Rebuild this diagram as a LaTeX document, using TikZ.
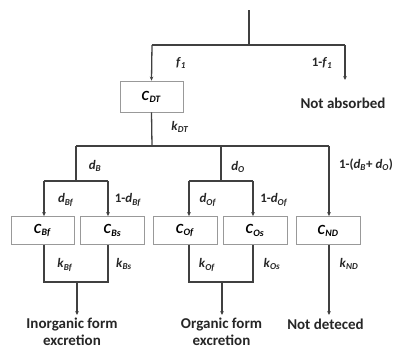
\documentclass[tikz,border=0pt]{standalone}
\usepackage{fontspec}
\setmainfont{Carlito}
\usetikzlibrary{arrows.meta}
\newcommand{\vr}[2]{\textit{#1}\textsubscript{\textit{#2}}}
\begin{document}
\begin{tikzpicture}[x=1pt,y=-1pt,
  conn/.style={draw=black!75,line width=1.3pt},
  arr/.style={conn,-{Stealth[length=4pt,width=3.6pt]}},
  box/.style={draw=black!40,line width=0.8pt,minimum width=63pt,minimum height=28pt,inner sep=0pt,font=\fontsize{14}{16}\selectfont\bfseries},
  lbl/.style={font=\fontsize{13}{15}\selectfont\bfseries,text=black!85,inner sep=0pt},
  outtxt/.style={font=\fontsize{15}{17}\selectfont\bfseries,text=black!85,align=center,inner sep=0pt}]
\useasboundingbox (0,0) rectangle (400,349);
% boxes
\node[box,minimum height=31pt] (DT) at (151.5,96.5) {\vr{C}{DT}};
\node[box] (Bf) at (42.5,230.5) {\vr{C}{Bf}};
\node[box,minimum width=64pt] (Bs) at (112.5,230.5) {\vr{C}{Bs}};
\node[box,minimum width=64pt] (Of) at (185,230.5) {\vr{C}{Of}};
\node[box,minimum width=64pt] (Os) at (255,230.5) {\vr{C}{Os}};
\node[box,minimum width=64pt] (ND) at (328,230.5) {\vr{C}{ND}};
% outputs
\node[outtxt] (NA) at (343,103) {Not absorbed};
\node[outtxt] (IO) at (72,332) {Inorganic form\\excretion};
\node[outtxt] (OO) at (221.5,332) {Organic form\\excretion};
\node[outtxt] (NDt) at (325.5,324) {Not deteced};
% coordinates
\coordinate (top) at (249,10);
\coordinate (j0) at (249,45);
\coordinate (hL) at (152,45);
\coordinate (hR) at (345,45);
\coordinate (naT) at (345,80);
\coordinate (j1) at (152,146);
\coordinate (aL) at (76,146);
\coordinate (aM) at (221,146);
\coordinate (aR) at (329,146);
\coordinate (bB) at (76,181);
\coordinate (bBL) at (44,181);
\coordinate (bBR) at (108,181);
\coordinate (bO) at (221,181);
\coordinate (bOL) at (189,181);
\coordinate (bOR) at (253,181);
\coordinate (eBL) at (44,282);
\coordinate (eBR) at (108,282);
\coordinate (eB) at (77,282);
\coordinate (eBT) at (77,315);
\coordinate (eOL) at (189,282);
\coordinate (eOR) at (253,282);
\coordinate (eO) at (222,282);
\coordinate (eOT) at (222,315);
\coordinate (eNT) at (329,315);
% connectors
\draw[conn] (top) -- (j0);
\draw[conn] (hL) -- (hR);
\draw[arr] (hL) -- (DT.north);
\draw[arr] (hR) -- (naT);
\draw[conn] (DT.south) -- (j1);
\draw[conn] (aL) -- (aR);
\draw[conn] (aL) -- (bB);
\draw[conn] (aM) -- (bO);
\draw[arr] (aR) -- (aR |- ND.north);
\draw[conn] (bBL) -- (bBR);
\draw[conn] (bOL) -- (bOR);
\draw[arr] (bBL) -- (bBL |- Bf.north);
\draw[arr] (bBR) -- (bBR |- Bs.north);
\draw[arr] (bOL) -- (bOL |- Of.north);
\draw[arr] (bOR) -- (bOR |- Os.north);
\draw[conn] (eBL |- Bf.south) -- (eBL) -- (eBR) -- (eBR |- Bs.south);
\draw[arr] (eB) -- (eBT);
\draw[conn] (eOL |- Of.south) -- (eOL) -- (eOR) -- (eOR |- Os.south);
\draw[arr] (eO) -- (eOT);
\draw[arr] (eNT |- ND.south) -- (eNT);
% labels
\node[lbl] (lf1) at (181,63) {\vr{f}{1}};
\node[lbl] (l1f1) at (322,63) {1-\vr{f}{1}};
\node[lbl] (lkDT) at (180,127) {\vr{k}{DT}};
\node[lbl] (ldB) at (95,166) {\vr{d}{B}};
\node[lbl] (ldO) at (238,167) {\vr{d}{O}};
\node[lbl] (ldN) at (366,165) {1-(\vr{d}{B}+ \vr{d}{O})};
\node[lbl] (ldBf) at (66,200) {\vr{d}{Bf}};
\node[lbl] (l1dBf) at (128,200) {1-\vr{d}{Bf}};
\node[lbl] (ldOf) at (208,200) {\vr{d}{Of}};
\node[lbl] (l1dOf) at (274,200) {1-\vr{d}{Of}};
\node[lbl] (lkBf) at (65,265) {\vr{k}{Bf}};
\node[lbl] (lkBs) at (124,264) {\vr{k}{Bs}};
\node[lbl] (lkOf) at (207,265) {\vr{k}{Of}};
\node[lbl] (lkOs) at (272,264) {\vr{k}{Os}};
\node[lbl] (lkND) at (349,264) {\vr{k}{ND}};
\end{tikzpicture}
\end{document}
